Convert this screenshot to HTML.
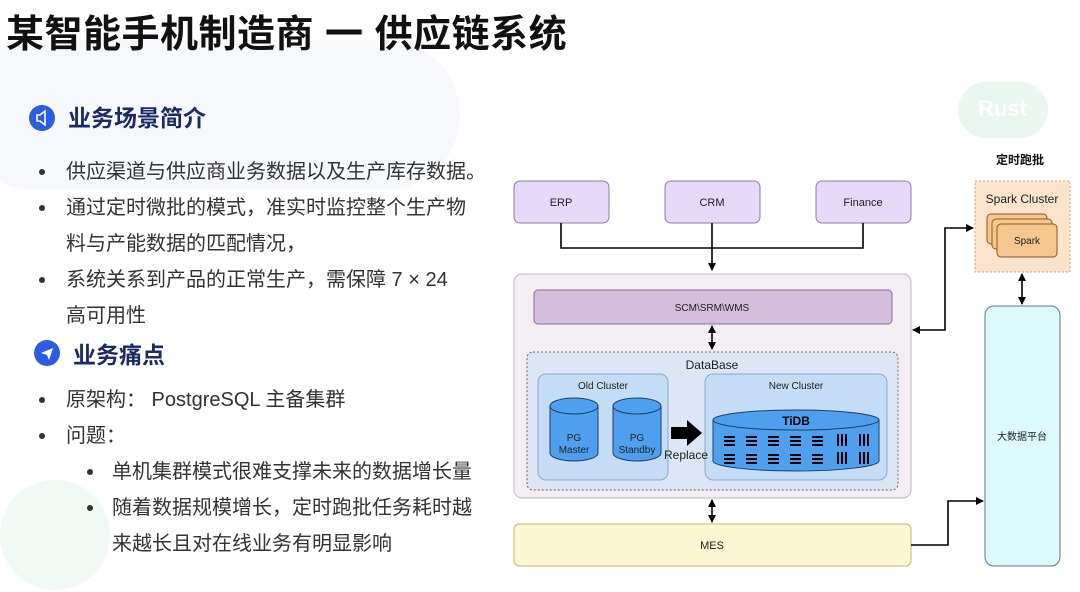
<!DOCTYPE html>
<html><head><meta charset="utf-8">
<style>
body{margin:0;width:1080px;height:592px;overflow:hidden;background:#fff;position:relative;font-family:"Liberation Sans","Noto Sans CJK SC",sans-serif}
.t{position:absolute;white-space:nowrap;color:#333;font-size:20px;line-height:24px}
.d{position:absolute;width:6px;height:6px;border-radius:50%;background:#333}
.h{position:absolute;font-size:23px;font-weight:bold;color:#1c2a66;line-height:28px}
.ic{position:absolute;width:26px;height:26px;border-radius:50%;background:#2d5be3}
</style></head><body>
<div style="position:absolute;left:-40px;top:40px;width:500px;height:150px;border-radius:80px;background:#f7f8fb"></div>
<div style="position:absolute;left:0;top:480px;width:110px;height:110px;border-radius:55px;background:#f1f9f5"></div>
<div style="position:absolute;left:958px;top:82px;width:90px;height:56px;border-radius:30px;background:#eaf6f0"></div>
<div style="position:absolute;left:978px;top:96px;color:#fff;font-weight:bold;font-size:22px">Rust</div>
<div class="t" style="left:6px;top:12px;font-size:38px;line-height:46px;font-weight:bold;color:#111;letter-spacing:0.5px">某智能手机制造商 一 供应链系统</div>

<div class="ic" style="left:29px;top:105px"></div>
<svg style="position:absolute;left:29px;top:105px" width="26" height="26"><path d="M8 10h3l5-4v14l-5-4H8z" fill="none" stroke="#fff" stroke-width="1.6"/></svg>
<div class="h" style="left:68px;top:104px">业务场景简介</div>

<div class="d" style="left:39px;top:169px"></div><div class="t" style="left:66px;top:160px">供应渠道与供应商业务数据以及生产库存数据。</div>
<div class="d" style="left:39px;top:205px"></div><div class="t" style="left:66px;top:196px">通过定时微批的模式，准实时监控整个生产物</div>
<div class="t" style="left:66px;top:232px">料与产能数据的匹配情况，</div>
<div class="d" style="left:39px;top:277px"></div><div class="t" style="left:66px;top:268px">系统关系到产品的正常生产，需保障 7 × 24</div>
<div class="t" style="left:66px;top:304px">高可用性</div>

<div class="ic" style="left:34px;top:340px"></div>
<svg style="position:absolute;left:34px;top:340px" width="26" height="26"><path d="M7 13l12-5-4 12-2-5z" fill="#fff"/></svg>
<div class="h" style="left:73px;top:341px">业务痛点</div>

<div class="d" style="left:39px;top:397px"></div><div class="t" style="left:66px;top:388px">原架构： PostgreSQL 主备集群</div>
<div class="d" style="left:39px;top:433px"></div><div class="t" style="left:66px;top:424px">问题：</div>
<div class="d" style="left:87px;top:469px"></div><div class="t" style="left:112px;top:460px">单机集群模式很难支撑未来的数据增长量</div>
<div class="d" style="left:87px;top:505px"></div><div class="t" style="left:112px;top:496px">随着数据规模增长，定时跑批任务耗时越</div>
<div class="t" style="left:112px;top:532px">来越长且对在线业务有明显影响</div>

<svg style="position:absolute;left:0;top:0" width="1080" height="592" font-family="Liberation Sans, Noto Sans CJK SC, sans-serif">
<defs><marker id="a" markerWidth="8" markerHeight="8" refX="7" refY="4" orient="auto-start-reverse" markerUnits="userSpaceOnUse"><path d="M0 0L8 4L0 8z" fill="#000"/></marker></defs>
<g font-size="11" text-anchor="middle" fill="#222">
<rect x="514" y="181" width="95" height="42" rx="6" fill="#e6d8f8" stroke="#8e78a8"/>
<text x="561" y="206">ERP</text>
<rect x="665" y="181" width="95" height="42" rx="6" fill="#e6d8f8" stroke="#8e78a8"/>
<text x="712" y="206">CRM</text>
<rect x="816" y="181" width="95" height="42" rx="6" fill="#e6d8f8" stroke="#8e78a8"/>
<text x="863" y="206">Finance</text>
<path d="M561 223V248H863V223M712 223V270" fill="none" stroke="#000" stroke-width="1.6" marker-end="url(#a)"/>
<rect x="514" y="274" width="397" height="224" rx="8" fill="#f3eef3" stroke="#bbb"/>
<rect x="534" y="290" width="358" height="34" rx="4" fill="#d3bfdc" stroke="#8e6e9c"/>
<text x="712" y="311" font-size="10">SCM\SRM\WMS</text>
<path d="M712 326V349" stroke="#000" stroke-width="1.6" marker-start="url(#a)" marker-end="url(#a)"/>
<rect x="527" y="352" width="371" height="138" rx="6" fill="#dce6f4" stroke="#666" stroke-dasharray="2,2"/>
<text x="712" y="369" font-size="12">DataBase</text>
<rect x="538" y="374" width="130" height="106" rx="8" fill="#c4dcf5" stroke="#8aa8c8"/>
<text x="603" y="389" font-size="10">Old Cluster</text>
<rect x="705" y="374" width="182" height="106" rx="8" fill="#c4dcf5" stroke="#8aa8c8"/>
<text x="796" y="389" font-size="10">New Cluster</text>
<g fill="#4ea0ee" stroke="#1f3f66">
<path d="M550 406V453A24 8 0 0 0 598 453V406"/><ellipse cx="574" cy="406" rx="24" ry="8"/>
<path d="M613 406V453A24 8 0 0 0 661 453V406"/><ellipse cx="637" cy="406" rx="24" ry="8"/>
<path d="M713 420V461A83 10 0 0 0 879 461V420"/><ellipse cx="796" cy="420" rx="83" ry="10"/>
</g>
<text x="574" y="441" font-size="10">PG</text><text x="574" y="453" font-size="10">Master</text>
<text x="637" y="441" font-size="10">PG</text><text x="637" y="453" font-size="10">Standby</text>
<text x="796" y="425" font-size="12" font-weight="bold" fill="#000">TiDB</text>
<path d="M671 427h16v-7l15 13-15 13v-7h-16z" fill="#000"/>
<text x="686" y="459" font-size="12">Replace</text>
<g fill="#000">
<path d="M724 436h11v2h-11zM724 440h11v2h-11zM724 444h11v2h-11zM746 436h11v2h-11zM746 440h11v2h-11zM746 444h11v2h-11zM768 436h11v2h-11zM768 440h11v2h-11zM768 444h11v2h-11zM790 436h11v2h-11zM790 440h11v2h-11zM790 444h11v2h-11zM812 436h11v2h-11zM812 440h11v2h-11zM812 444h11v2h-11z"/>
<path d="M724 454h11v2h-11zM724 458h11v2h-11zM724 462h11v2h-11zM746 454h11v2h-11zM746 458h11v2h-11zM746 462h11v2h-11zM768 454h11v2h-11zM768 458h11v2h-11zM768 462h11v2h-11zM790 454h11v2h-11zM790 458h11v2h-11zM790 462h11v2h-11zM812 454h11v2h-11zM812 458h11v2h-11zM812 462h11v2h-11z"/>
<path d="M837 434h2v12h-2zM841 434h2v12h-2zM845 434h2v12h-2zM859 434h2v12h-2zM863 434h2v12h-2zM867 434h2v12h-2zM837 452h2v12h-2zM841 452h2v12h-2zM845 452h2v12h-2zM859 452h2v12h-2zM863 452h2v12h-2zM867 452h2v12h-2z"/>
</g>
<path d="M712 500V522" stroke="#000" stroke-width="1.6" marker-start="url(#a)" marker-end="url(#a)"/>
<rect x="514" y="524" width="397" height="42" rx="5" fill="#fcf6d2" stroke="#c9b46a"/>
<text x="712" y="549">MES</text>
<text x="1020" y="164" font-size="12" font-weight="bold" fill="#111">定时跑批</text>
<rect x="975" y="181" width="95" height="91" fill="#fbe3cc" stroke="#d9a070" stroke-dasharray="2,2"/>
<text x="1022" y="203" font-size="12">Spark Cluster</text>
<g fill="#f6c690" stroke="#8a5a20">
<rect x="987" y="214" width="60" height="30" rx="4"/><rect x="992" y="219" width="60" height="30" rx="4"/><rect x="997" y="224" width="60" height="33" rx="4"/>
</g>
<text x="1027" y="244" font-size="10">Spark</text>
<path d="M913 330H945V228H973" fill="none" stroke="#000" stroke-width="1.6" marker-start="url(#a)" marker-end="url(#a)"/>
<path d="M1022 274V304" stroke="#000" stroke-width="1.6" marker-start="url(#a)" marker-end="url(#a)"/>
<rect x="985" y="306" width="75" height="260" rx="9" fill="#dcfafd" stroke="#5a7a80"/>
<text x="1022" y="440" font-size="10">大数据平台</text>
<path d="M911 545H948V501H983" fill="none" stroke="#000" stroke-width="1.6" marker-end="url(#a)"/>
</g>
</svg>
</body></html>
